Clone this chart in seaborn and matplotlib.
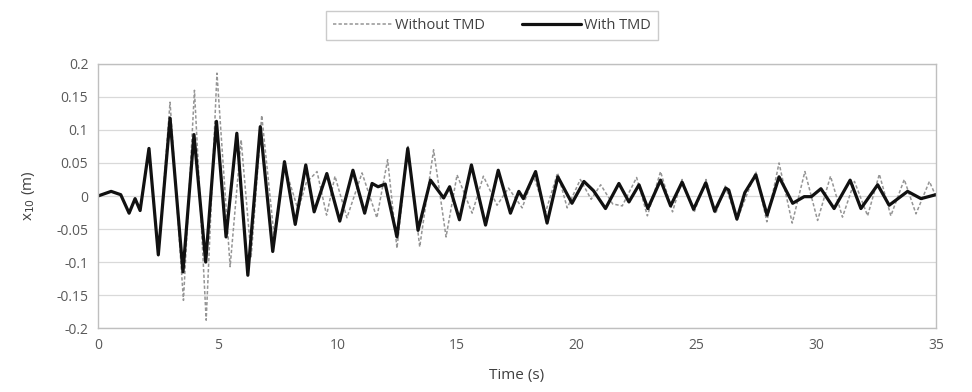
import pandas as pd
import seaborn as sns
import matplotlib.pyplot as plt

# Peaks / troughs (time in s, displacement in m)
t_with = [0.0, 0.55, 0.95, 1.3, 1.55, 1.76, 2.13, 2.52, 3.01, 3.55, 4.01, 4.5, 4.95,
          5.35, 5.8, 6.26, 6.78, 7.3, 7.79, 8.24, 8.68, 9.03, 9.56, 10.1, 10.65,
          11.14, 11.45, 11.7, 12.0, 12.49, 12.94, 13.37, 13.89, 14.44, 14.69, 15.1,
          15.6, 16.19, 16.72, 17.23, 17.58, 17.77, 18.28, 18.76, 19.21, 19.8, 20.3,
          20.7, 21.2, 21.76, 22.18, 22.6, 22.97, 23.5, 23.92, 24.4, 24.88, 25.39,
          25.76, 26.22, 26.35, 26.69, 27.02, 27.48, 27.95, 28.45, 29.02, 29.5, 29.8,
          30.2, 30.75, 31.42, 31.87, 32.57, 33.05, 33.82, 34.38, 35.0]
x_with = [0.0, 0.007, 0.002, -0.026, -0.004, -0.022, 0.072, -0.089, 0.118, -0.115,
          0.093, -0.1, 0.113, -0.062, 0.095, -0.12, 0.105, -0.084, 0.052, -0.043,
          0.047, -0.024, 0.034, -0.038, 0.039, -0.026, 0.019, 0.014, 0.018, -0.062,
          0.072, -0.052, 0.024, -0.003, 0.014, -0.036, 0.047, -0.044, 0.039, -0.026,
          0.007, -0.004, 0.037, -0.041, 0.029, -0.011, 0.022, 0.008, -0.019, 0.019,
          -0.009, 0.017, -0.019, 0.024, -0.015, 0.021, -0.02, 0.02, -0.023, 0.012,
          0.009, -0.035, 0.005, 0.032, -0.029, 0.029, -0.011, -0.001, -0.001,
          0.011, -0.019, 0.024, -0.019, 0.017, -0.014, 0.007, -0.004, 0.002]

t_without = [0.0, 0.55, 0.95, 1.3, 1.55, 1.76, 2.13, 2.52, 3.01, 3.57, 4.03, 4.52,
             4.97, 5.52, 5.98, 6.4, 6.84, 7.35, 7.8, 8.36, 8.7, 9.15, 9.55, 9.9,
             10.4, 11.03, 11.65, 12.1, 12.49, 12.95, 13.44, 14.02, 14.54, 15.0,
             15.63, 16.1, 16.67, 17.15, 17.72, 18.2, 18.7, 19.2, 19.6, 20.15, 20.6,
             21.0, 21.5, 21.9, 22.5, 22.95, 23.5, 24.0, 24.4, 24.9, 25.4, 25.8,
             26.2, 26.7, 27.48, 27.94, 28.45, 29.0, 29.53, 30.06, 30.6, 31.1, 31.6,
             32.15, 32.64, 33.12, 33.68, 34.17, 34.73, 35.0]
x_without = [0.0, 0.007, 0.002, -0.026, -0.004, -0.022, 0.074, -0.092, 0.142,
             -0.158, 0.16, -0.188, 0.186, -0.107, 0.085, -0.092, 0.122, -0.058,
             0.045, -0.021, 0.02, 0.037, -0.029, 0.03, -0.033, 0.035, -0.033, 0.055,
             -0.079, 0.075, -0.077, 0.07, -0.062, 0.032, -0.026, 0.03, -0.014, 0.012,
             -0.018, 0.03, -0.024, 0.035, -0.018, 0.025, -0.005, 0.017, -0.012,
             -0.015, 0.028, -0.03, 0.037, -0.024, 0.025, -0.025, 0.025, -0.027,
             0.015, -0.036, 0.037, -0.039, 0.05, -0.041, 0.037, -0.037, 0.03,
             -0.032, 0.022, -0.03, 0.033, -0.03, 0.025, -0.027, 0.022, 0.0]

y_ticks = [-0.2, -0.15, -0.1, -0.05, 0, 0.05, 0.1, 0.15, 0.2]
y_labels = ["-0.2", "-0.15", "-0.1", "-0.05", "0", "0.05", "0.1", "0.15", "0.2"]
x_ticks = [0, 5, 10, 15, 20, 25, 30, 35]

df_without = pd.DataFrame({"t": t_without, "x": x_without})
df_with = pd.DataFrame({"t": t_with, "x": x_with})

sns.set_theme(style="white")
plt.rcParams["font.family"] = ["Open Sans", "DejaVu Sans"]

fig = plt.figure(figsize=(9.72, 3.92), dpi=100)
ax = fig.add_axes([0.1008, 0.163, 0.862, 0.674])

# dashed first so the solid line sits on top
sns.lineplot(data=df_without, x="t", y="x", ax=ax, color="#959595", linewidth=1.1,
             linestyle=(0, (2.2, 1.4)), label="Without TMD", sort=False)
sns.lineplot(data=df_with, x="t", y="x", ax=ax, color="#111111", linewidth=2.3,
             label="With TMD", sort=False, solid_joinstyle="round")

ax.set_xlim(0, 35)
ax.set_ylim(-0.2, 0.2)
ax.set_yticks(y_ticks)
ax.set_yticklabels(y_labels)
ax.set_xticks(x_ticks)
ax.yaxis.grid(True, color="#d9d9d9", linewidth=0.9)
ax.tick_params(length=0, labelsize=10, colors="#595959", pad=7)
for s in ax.spines.values():
    s.set_color("#bfbfbf")
    s.set_linewidth(1.0)

ax.set_xlabel("Time (s)", fontsize=11, color="#404040", labelpad=11)
ax.set_ylabel("x$_{10}$ (m)", fontsize=11, color="#404040", labelpad=14)

ax.legend_.remove()
handles, labels = ax.get_legend_handles_labels()
leg = fig.legend(handles, labels, loc="center", bbox_to_anchor=(0.506, 0.935), ncol=2,
                 fontsize=10.5, frameon=True, fancybox=False, handlelength=4.0,
                 columnspacing=2.6, handletextpad=0.2, borderpad=0.5,
                 borderaxespad=0)
leg.get_frame().set_edgecolor("#bfbfbf")
leg.get_frame().set_linewidth(1.0)
for txt in leg.get_texts():
    txt.set_color("#404040")

fig.savefig("out.png", dpi=100)
